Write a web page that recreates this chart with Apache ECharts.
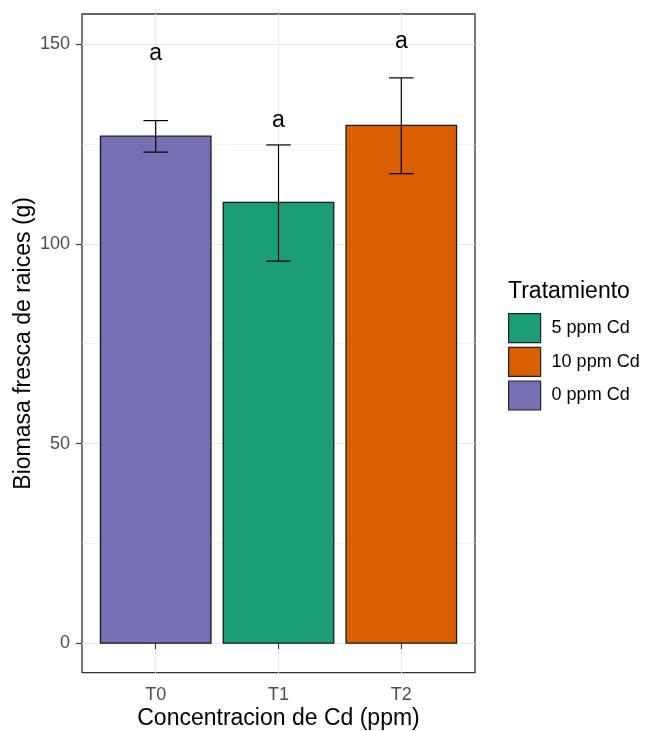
<!DOCTYPE html>
<html>
<head>
<meta charset="utf-8">
<title>Biomasa fresca de raices</title>
<script src="https://cdn.jsdelivr.net/npm/echarts@6/dist/echarts.min.js"></script>
<style>
  html, body { margin: 0; padding: 0; background: #fff; }
  #chart { width: 653px; height: 731px; }
</style>
</head>
<body>
<div id="chart"></div>
<script>
// Root fresh biomass per cadmium treatment (mean with error range)
const categories = ['T0', 'T1', 'T2'];
const treatments = ['0 ppm Cd', '5 ppm Cd', '10 ppm Cd'];
const legendOrder = ['5 ppm Cd', '10 ppm Cd', '0 ppm Cd'];
const means = [127.0, 110.4, 129.7];
const errLow = [123.0, 95.7, 117.6];
const errHigh = [130.9, 124.8, 141.6];
const groupLetters = ['a', 'a', 'a'];
const letterHeights = [147.6, 131.0, 150.6];
const yTicks = [0, 50, 100, 150];
const yMinor = [25, 75, 125];
const xPositions = [1, 2, 3];

const colors = { '0 ppm Cd': '#7570B3', '5 ppm Cd': '#1B9E77', '10 ppm Cd': '#D95F02' };
const FONT = '"Liberation Sans", Arial, sans-serif';

const chart = echarts.init(document.getElementById('chart'), null, { renderer: 'canvas' });

const barHalf = 0.45;
const capHalf = 0.1;

function barItem(params, api) {
  const x = api.value(0), y = api.value(1);
  const p0 = api.coord([x - barHalf, 0]);
  const p1 = api.coord([x + barHalf, y]);
  return {
    type: 'rect',
    shape: { x: p0[0], y: p1[1], width: p1[0] - p0[0], height: p0[1] - p1[1] },
    style: { fill: api.visual('color'), stroke: '#1a1a1a', lineWidth: 1.3 }
  };
}

function errItem(params, api) {
  const x = api.value(0), lo = api.value(1), hi = api.value(2);
  const a = api.coord([x, lo]);
  const b = api.coord([x, hi]);
  const w = api.coord([x + capHalf, lo])[0] - a[0];
  const st = { stroke: '#000', lineWidth: 1.2, fill: null };
  return {
    type: 'group',
    children: [
      { type: 'line', shape: { x1: a[0], y1: a[1], x2: b[0], y2: b[1] }, style: st },
      { type: 'line', shape: { x1: a[0] - w, y1: a[1], x2: a[0] + w, y2: a[1] }, style: st },
      { type: 'line', shape: { x1: b[0] - w, y1: b[1], x2: b[0] + w, y2: b[1] }, style: st }
    ]
  };
}

function letterItem(params, api) {
  const p = api.coord([api.value(0), api.value(1)]);
  return {
    type: 'text',
    x: p[0], y: p[1],
    style: {
      text: groupLetters[params.dataIndex],
      fill: '#000', font: '23px ' + FONT,
      align: 'center', verticalAlign: 'middle'
    }
  };
}

const gridLine = { color: '#EBEBEB', width: 1.1, type: 'solid' };
const gridMinor = { color: '#EBEBEB', width: 0.6, type: 'solid' };

const series = [];

// background grid lines
series.push({
  type: 'custom',
  name: 'grid',
  silent: true,
  z: 0,
  data: [],
  renderItem: () => null,
  markLine: {
    silent: true,
    symbol: 'none',
    animation: false,
    z: 0,
    label: { show: false },
    emphasis: { disabled: true },
    data: [
      ...yMinor.map(v => ({ yAxis: v, lineStyle: gridMinor })),
      ...yTicks.map(v => ({ yAxis: v, lineStyle: gridLine })),
      ...xPositions.map(v => ({ xAxis: v, lineStyle: gridLine }))
    ]
  }
});

treatments.forEach((t, i) => {
  series.push({
    type: 'custom',
    name: t,
    z: 2,
    itemStyle: { color: colors[t] },
    encode: { x: 0, y: 1 },
    data: [[xPositions[i], means[i]]],
    renderItem: barItem
  });
});

series.push({
  type: 'custom',
  name: 'error',
  z: 3,
  encode: { x: 0, y: [1, 2] },
  data: xPositions.map((x, i) => [x, errLow[i], errHigh[i]]),
  renderItem: errItem
});

series.push({
  type: 'custom',
  name: 'letters',
  z: 4,
  encode: { x: 0, y: 1 },
  data: xPositions.map((x, i) => [x, letterHeights[i]]),
  renderItem: letterItem
});

chart.setOption({
  animation: false,
  backgroundColor: '#fff',
  textStyle: { fontFamily: FONT },
  title: {
    text: 'Tratamiento',
    left: 508, top: 280, padding: 0,
    textStyle: { fontFamily: FONT, fontSize: 23, fontWeight: 'normal', color: '#000' }
  },
  legend: {
    data: legendOrder,
    orient: 'vertical',
    left: 508, top: 313,
    padding: 0,
    itemWidth: 32, itemHeight: 29, itemGap: 3.5,
    icon: 'rect',
    itemStyle: { borderColor: '#222', borderWidth: 1.2 },
    textStyle: { fontFamily: FONT, fontSize: 18, color: '#000', padding: [0, 0, 0, 6] },
    selectedMode: false
  },
  grid: {
    left: 82, right: 178, top: 14, bottom: 58.3,
    outerBoundsMode: 'none',
    containLabel: false,
    show: true, borderColor: '#333', borderWidth: 1.3, backgroundColor: 'transparent'
  },
  xAxis: {
    type: 'value',
    min: 0.4, max: 3.6,
    name: 'Concentracion de Cd (ppm)',
    nameLocation: 'middle',
    nameGap: 34,
    nameMoveOverlap: false,
    nameTextStyle: { fontFamily: FONT, fontSize: 23, color: '#000' },
    axisLine: { show: false },
    axisTick: { show: true, length: 6, customValues: xPositions, lineStyle: { color: '#333', width: 1.1 } },
    axisLabel: {
      customValues: xPositions,
      margin: 13,
      fontFamily: FONT, fontSize: 18, color: '#4D4D4D',
      formatter: v => categories[Math.round(v) - 1]
    },
    splitLine: { show: false }
  },
  yAxis: {
    type: 'value',
    min: -7.4, max: 157.6,
    name: 'Biomasa fresca de raices (g)',
    nameLocation: 'middle',
    nameGap: 47,
    nameMoveOverlap: false,
    nameTextStyle: { fontFamily: FONT, fontSize: 23, color: '#000' },
    axisLine: { show: false },
    axisTick: { show: true, length: 6, customValues: yTicks, lineStyle: { color: '#333', width: 1.1 } },
    axisLabel: {
      customValues: yTicks,
      margin: 12,
      fontFamily: FONT, fontSize: 18, color: '#4D4D4D'
    },
    splitLine: { show: false }
  },
  series: series
});
</script>
</body>
</html>
